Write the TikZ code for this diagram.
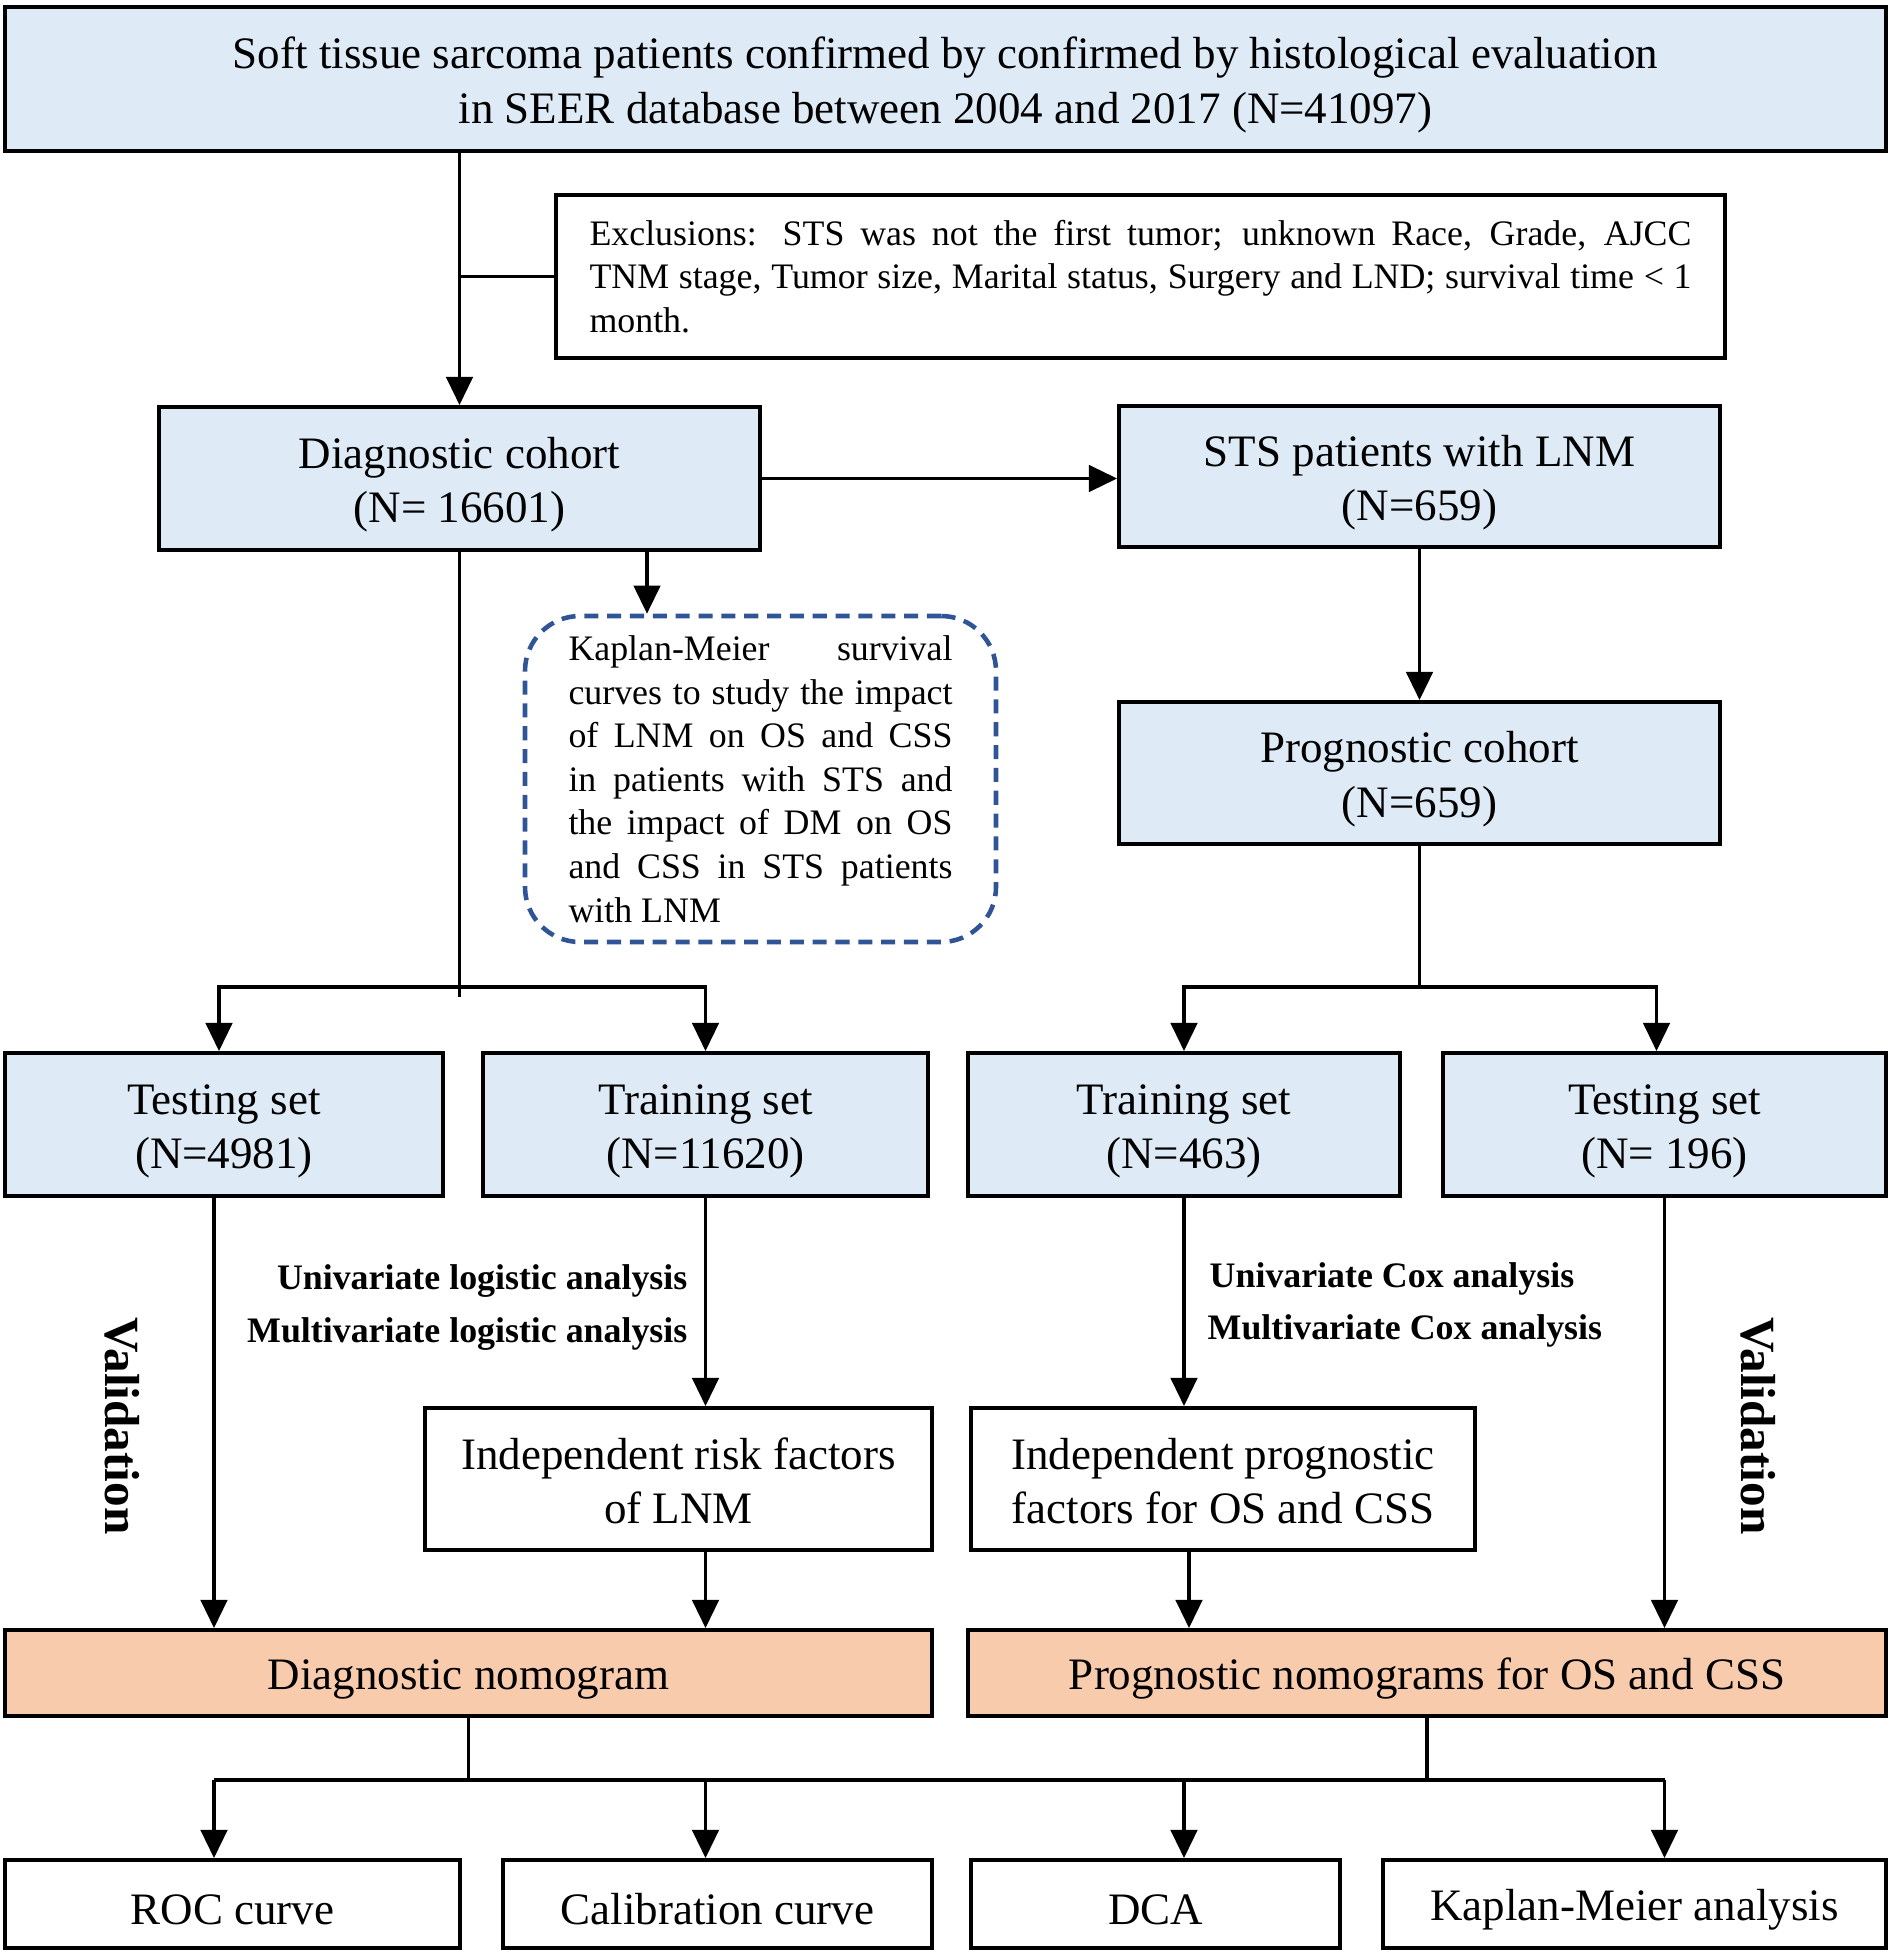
\documentclass[tikz,border=0pt]{standalone}
\usepackage{fontspec}
\setmainfont{Liberation Serif}
\usetikzlibrary{arrows.meta}
\definecolor{cohortblue}{RGB}{222,235,247}
\definecolor{nomoorange}{RGB}{248,203,173}
\definecolor{dashblue}{RGB}{47,85,151}

\begin{document}
\begin{tikzpicture}[x=0.1mm, y=-0.1mm,
    box/.style={draw, line width=1.1pt, inner sep=0pt, align=center,
      font=\fontsize{12.8pt}{15.4pt}\selectfont,
      execute at begin node={\rule{0pt}{12pt}}},
    twoline/.style={text height=27.9pt, text depth=2.8pt},
    cohort/.style={box, fill=cohortblue},
    nomo/.style={box, fill=nomoorange},
    plainbox/.style={box, fill=white},
    justbox/.style={align=justify, inner sep=0pt,
      font=\fontsize{10.2pt}{12.4pt}\selectfont},
    note/.style={font=\fontsize{10.2pt}{12pt}\selectfont\bfseries, inner sep=0pt},
    vlab/.style={font=\fontsize{14pt}{16pt}\selectfont\bfseries, rotate=-90, inner sep=0pt},
    conn/.style={line width=1pt},
    arr/.style={conn, -{Triangle[length=8pt,width=7.5pt]}}]
\useasboundingbox (0,0) rectangle (1890,1959);

% cohorts
\node[cohort, twoline, minimum width=18.81cm, minimum height=1.44cm] (sts) at (945.5,79)
  {Soft tissue sarcoma patients confirmed by confirmed by histological evaluation\\
   in SEER database between 2004 and 2017 (N=41097)};
\node[justbox, draw, line width=1.1pt, fill=white, text width=11.02cm,
  minimum width=11.69cm, minimum height=1.63cm] (excl) at (1140.5,276.5)
  {Exclusions: STS was not the first tumor; unknown Race, Grade, AJCC\linebreak
   TNM stage, Tumor size, Marital status, Surgery and LND; survival time <~1\linebreak
   month.};
\node[cohort, twoline, minimum width=6.01cm, minimum height=1.43cm] (diag) at (459.5,478.5)
  {Diagnostic cohort\\(N= 16601)};
\node[cohort, twoline, minimum width=6.01cm, minimum height=1.41cm] (lnm) at (1419.5,476.5)
  {STS patients with LNM\\(N=659)};
\node[justbox, draw=dashblue, line width=1.3pt, dash pattern=on 4pt off 2.5pt,
  rounded corners=5.5mm, text width=3.84cm, minimum width=4.71cm,
  minimum height=3.26cm] (km) at (760.5,779)
  {Kaplan-Meier survival\linebreak curves to study the impact\linebreak
   of LNM on OS and CSS\linebreak in patients with STS and\linebreak
   the impact of DM on OS\linebreak and CSS in STS patients\linebreak with LNM};
\node[cohort, twoline, minimum width=6.01cm, minimum height=1.42cm] (progc) at (1419.5,773)
  {Prognostic cohort\\(N=659)};

% training / testing sets
\node[cohort, twoline, minimum width=4.38cm, minimum height=1.43cm] (dtest) at (224,1124.5)
  {Testing set\\(N=4981)};
\node[cohort, twoline, minimum width=4.45cm, minimum height=1.43cm] (dtrain) at (705.5,1124.5)
  {Training set\\(N=11620)};
\node[cohort, twoline, minimum width=4.32cm, minimum height=1.43cm] (ptrain) at (1184,1124.5)
  {Training set\\(N=463)};
\node[cohort, twoline, minimum width=4.43cm, minimum height=1.43cm] (ptest) at (1664.5,1124.5)
  {Testing set\\(N= 196)};

\node[plainbox, twoline, minimum width=5.07cm, minimum height=1.42cm] (risk) at (678.5,1479)
  {Independent risk factors\\of LNM};
\node[plainbox, twoline, minimum width=5.04cm, minimum height=1.42cm] (pfac) at (1223,1479)
  {Independent prognostic\\factors for OS and CSS};

\node[note, anchor=east] (ulog) at (688,1281) {Univariate logistic analysis};
\node[note, anchor=east] (mlog) at (688,1334) {Multivariate logistic analysis};
\node[note, anchor=west] (ucox) at (1209,1279) {Univariate Cox analysis};
\node[note, anchor=west] (mcox) at (1207,1331) {Multivariate Cox analysis};
\node[vlab] (dval) at (122,1426) {Validation};
\node[vlab] (pval) at (1758,1426) {Validation};

% nomograms and outputs
\node[nomo, minimum width=9.27cm, minimum height=0.86cm] (dnomo) at (468.5,1673)
  {Diagnostic nomogram};
\node[nomo, minimum width=9.18cm, minimum height=0.86cm] (pnomo) at (1427,1673)
  {Prognostic nomograms for OS and CSS};
\node[plainbox, minimum width=4.55cm, minimum height=0.88cm] (roc) at (232.5,1904) {ROC curve};
\node[plainbox, minimum width=4.29cm, minimum height=0.88cm] (cal) at (717.5,1904) {Calibration curve};
\node[plainbox, minimum width=3.69cm, minimum height=0.88cm] (dca) at (1155.5,1904) {DCA};
\node[plainbox, minimum width=5.03cm, minimum height=0.88cm] (kma) at (1634.5,1904) {Kaplan-Meier analysis};

% connectors
\coordinate (kmin) at ([xshift=-1.135cm]km.north);
\coordinate (valin) at ([xshift=-0.1cm]dtest.south);
\coordinate (split) at (0,987);
\coordinate (bus) at (0,1780);

\draw[arr] (sts.south -| diag.north) -- (diag.north);
\draw[conn] (diag.north |- excl.west) -- (excl.west);
\draw[arr] (diag.east) -- (diag.east -| lnm.west);
\draw[arr] (kmin |- diag.south) -- (kmin);
\draw[arr] (lnm.south) -- (progc.north);

\draw[conn] (diag.south) -- ([yshift=-1mm]diag.south |- split);
\draw[arr] (diag.south |- split) -| ([xshift=-0.05cm]dtest.north);
\draw[arr] (diag.south |- split) -| (dtrain.north);
\draw[conn] (progc.south) -- (progc.south |- split);
\draw[arr] (progc.south |- split) -| (ptrain.north);
\draw[arr] (progc.south |- split) -| ([xshift=-0.08cm]ptest.north);

\draw[arr] (valin) -- (valin |- dnomo.north);
\draw[arr] (dtrain.south) -- (dtrain.south |- risk.north);
\draw[arr] (dtrain.south |- risk.south) -- (dtrain.south |- dnomo.north);
\draw[arr] (ptrain.south) -- (ptrain.south |- pfac.north);
\draw[arr] ([xshift=0.05cm]ptrain.south |- pfac.south) -- ([xshift=0.05cm]ptrain.south |- pnomo.north);
\draw[arr] (ptest.south) -- (ptest.south |- pnomo.north);

\draw[conn] (dnomo.south) -- (dnomo.south |- bus);
\draw[conn] (pnomo.south) -- (pnomo.south |- bus);
\draw[conn] (bus -| valin) -- (bus -| ptest.south);
\foreach \src/\dst in {valin/roc, dtrain.south/cal, ptrain.south/dca, ptest.south/kma}
  \draw[arr] (bus -| \src) -- (\dst.north -| \src);
\end{tikzpicture}
\end{document}
